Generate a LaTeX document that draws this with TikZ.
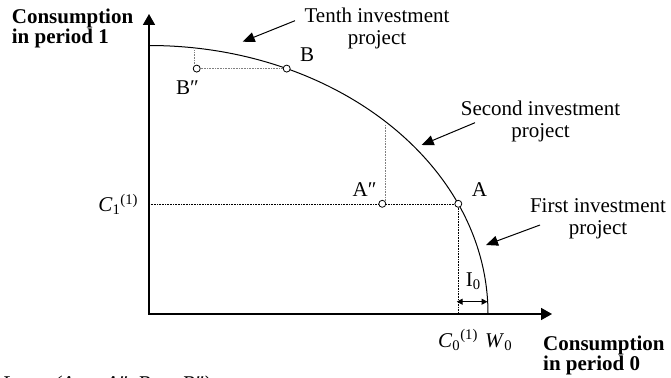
\documentclass[tikz,border=0pt]{standalone}
\usepackage{fontspec}
\setmainfont{Liberation Serif}
\usetikzlibrary{arrows.meta}
\begin{document}
\begin{tikzpicture}[x=1pt,y=-1pt,
  lbl/.style={font=\fontsize{21}{21.5}\selectfont, inner sep=0pt},
  blbl/.style={font=\fontsize{21}{20}\selectfont\bfseries, inner sep=0pt, align=left},
  axisline/.style={line width=1.6pt, line join=miter, {Triangle[length=11pt,width=12pt]}-{Triangle[length=11pt,width=12pt]}},
  pointer/.style={line width=1pt, -{Triangle[length=12pt,width=10pt]}},
  guide/.style={densely dotted, line width=0.6pt},
  pt/.style={circle, draw, fill=white, line width=0.8pt, minimum size=7pt, inner sep=0pt}]
\useasboundingbox (0,0) rectangle (671,377);

% axes
\coordinate (O) at (149,314);
\coordinate (Ytip) at (149,14);
\coordinate (Xtip) at (552,314);
\draw[axisline] (Ytip) -- (O) -- (Xtip);

% frontier (quarter ellipse about the origin)
\coordinate (Ftop) at (149,45.5);
\draw[line width=1pt] (Ftop) arc[start angle=-90, end angle=0, x radius=339, y radius=268.5];

% points
\node[pt] (A) at (458.3,203.8) {};
\node[pt] (A2) at (382.3,203.8) {};
\node[pt] (B) at (286.7,68.6) {};
\node[pt] (B2) at (196.7,68.6) {};

% guides
\coordinate (A2top) at (385.7,125);
\coordinate (B2top) at (194.3,50.5);
\draw[guide] (O |- A) -- (A2.west);
\draw[guide] (A2.east) -- (A.west);
\draw[guide] (A.south) -- (A.south |- O);
\draw[guide, gray] (A2top) -- (A2top |- A2.north east);
\draw[guide, gray] (B2top) -- (B2top |- B2.north west);
\draw[guide, gray] (B2.east) -- (B.west);

% point labels
\node[lbl, anchor=base west] (Alab) at (471.7,196.7) {A};
\node[lbl, anchor=base east] (A2lab) at (376.7,196.7) {A″};
\node[lbl, anchor=base west] (Blab) at (300,61.7) {B};
\node[lbl, anchor=base west] (B2lab) at (176,95) {B″};
\node[lbl, anchor=base east] (C1lab) at (138.3,211.7) {\textit{C}\textsubscript{1}\textsuperscript{(1)}};
\node[lbl, anchor=base west] (C0lab) at (438,347) {\textit{C}\textsubscript{0}\textsuperscript{(1)}};
\node[lbl, anchor=base west] (W0lab) at (485,347) {\textit{W}\textsubscript{0}};

% I0
\node[lbl, anchor=base west] (I0) at (465.7,286.7) {I\textsubscript{0}};
\coordinate (I0l) at (456.7,301.7);
\coordinate (I0r) at (487.5,301.7);
\draw[line width=1.2pt, {Triangle[length=6pt,width=6pt]}-{Triangle[length=6pt,width=6pt]}] (I0l) -- (I0r);

% axis labels (anchor base = last line)
\node[blbl, anchor=base west] (ylab) at (11.7,44) {Consumption\\in period 1};
\node[blbl, anchor=base west] (xlab) at (543,370) {Consumption\\in period 0};

% project labels (anchor base = last line)
\node[lbl, align=center, anchor=base] (tenth) at (377,44.5) {Tenth investment\\project};
\node[lbl, align=center, anchor=base] (second) at (540.5,137) {Second investment\\project};
\node[lbl, align=center, anchor=base] (first) at (598,234) {First investment\\project};

\coordinate (tenthS) at (295,20.7);
\coordinate (tenthT) at (242.7,41.7);
\coordinate (secondS) at (475,122.7);
\coordinate (secondT) at (421.7,145);
\coordinate (firstS) at (540,225);
\coordinate (firstT) at (486,245);
\draw[pointer] (tenthS) -- (tenthT);
\draw[pointer] (secondS) -- (secondT);
\draw[pointer] (firstS) -- (firstT);

% bottom note (clipped by the page, as in the reference)
\node[lbl, font=\fontsize{21}{21}\selectfont\itshape, anchor=base west] (note) at (2,390) {Lotus (A → A″, B → B″)};
\end{tikzpicture}
\end{document}
